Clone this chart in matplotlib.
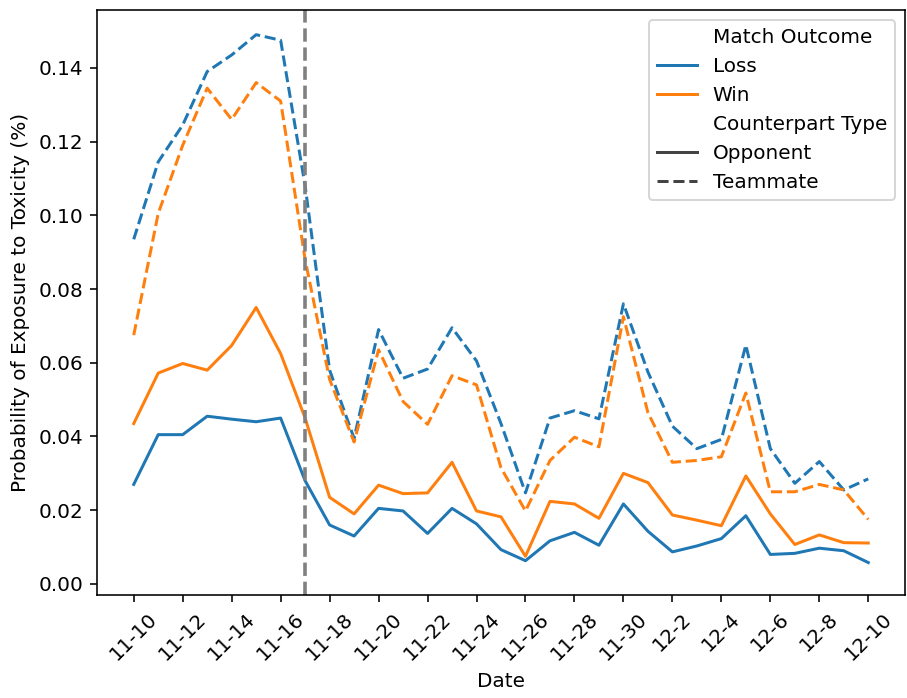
import numpy as np
import matplotlib
matplotlib.use("Agg")
import matplotlib.pyplot as plt
from matplotlib.lines import Line2D

dates = ["11-10", "11-11", "11-12", "11-13", "11-14", "11-15", "11-16", "11-17",
         "11-18", "11-19", "11-20", "11-21", "11-22", "11-23", "11-24", "11-25",
         "11-26", "11-27", "11-28", "11-29", "11-30", "12-1", "12-2", "12-3",
         "12-4", "12-5", "12-6", "12-7", "12-8", "12-9", "12-10"]

loss_opponent = [0.0270, 0.0405, 0.0405, 0.0455, 0.0447, 0.0440, 0.0450, 0.0280,
                 0.0160, 0.0130, 0.0205, 0.0198, 0.0137, 0.0205, 0.0163, 0.0093,
                 0.0063, 0.0117, 0.0140, 0.0105, 0.0217, 0.0143, 0.0087, 0.0103,
                 0.0123, 0.0185, 0.0080, 0.0083, 0.0097, 0.0090, 0.0058]
win_opponent = [0.0435, 0.0572, 0.0598, 0.0580, 0.0647, 0.0750, 0.0625, 0.0450,
                0.0235, 0.0190, 0.0268, 0.0245, 0.0247, 0.0330, 0.0198, 0.0182,
                0.0075, 0.0224, 0.0217, 0.0178, 0.0300, 0.0275, 0.0187, 0.0173,
                0.0158, 0.0293, 0.0190, 0.0107, 0.0133, 0.0112, 0.0111]
loss_teammate = [0.0935, 0.1145, 0.1245, 0.1390, 0.1435, 0.1490, 0.1475, 0.1080,
                 0.0580, 0.0395, 0.0690, 0.0558, 0.0583, 0.0695, 0.0605, 0.0435,
                 0.0247, 0.0450, 0.0470, 0.0448, 0.0760, 0.0575, 0.0428, 0.0367,
                 0.0392, 0.0648, 0.0367, 0.0273, 0.0332, 0.0255, 0.0285]
win_teammate = [0.0675, 0.1005, 0.1190, 0.1345, 0.1260, 0.1360, 0.1310, 0.0880,
                0.0555, 0.0385, 0.0635, 0.0495, 0.0433, 0.0565, 0.0540, 0.0315,
                0.0198, 0.0335, 0.0398, 0.0372, 0.0725, 0.0465, 0.0330, 0.0335,
                0.0345, 0.0518, 0.0250, 0.0250, 0.0270, 0.0255, 0.0175]

event_date = "11-17"

blue = "#1f77b4"
orange = "#ff7f0e"

DPI = 144
fig = plt.figure(figsize=(907 / DPI, 698 / DPI), dpi=DPI)
ax = fig.add_axes([97 / 907, 1 - 595 / 698, 808 / 907, 585 / 698])

x = np.arange(len(dates))
ax.plot(x, loss_opponent, color=blue, lw=1.5)
ax.plot(x, win_opponent, color=orange, lw=1.5)
ax.plot(x, loss_teammate, color=blue, lw=1.5, ls="--")
ax.plot(x, win_teammate, color=orange, lw=1.5, ls="--")

ax.axvline(dates.index(event_date), color="gray", ls="--", lw=1.8)

ax.set_xticks(x[::2])
ax.set_xticklabels(dates[::2], rotation=45)
ax.set_xlim(-1.5, len(dates) + 0.5)
ax.set_ylim(-0.003, 0.1557)
ax.set_xlabel("Date")
ax.set_ylabel("Probability of Exposure to Toxicity (%)")

handles = [
    Line2D([], [], color="none"),
    Line2D([], [], color=blue, lw=1.5),
    Line2D([], [], color=orange, lw=1.5),
    Line2D([], [], color="none"),
    Line2D([], [], color="#444444", lw=1.5),
    Line2D([], [], color="#444444", lw=1.5, ls="--"),
]
labels = ["Match Outcome", "Loss", "Win", "Counterpart Type", "Opponent", "Teammate"]
ax.legend(handles, labels, loc="upper right")

fig.savefig("out.png", dpi=DPI)
